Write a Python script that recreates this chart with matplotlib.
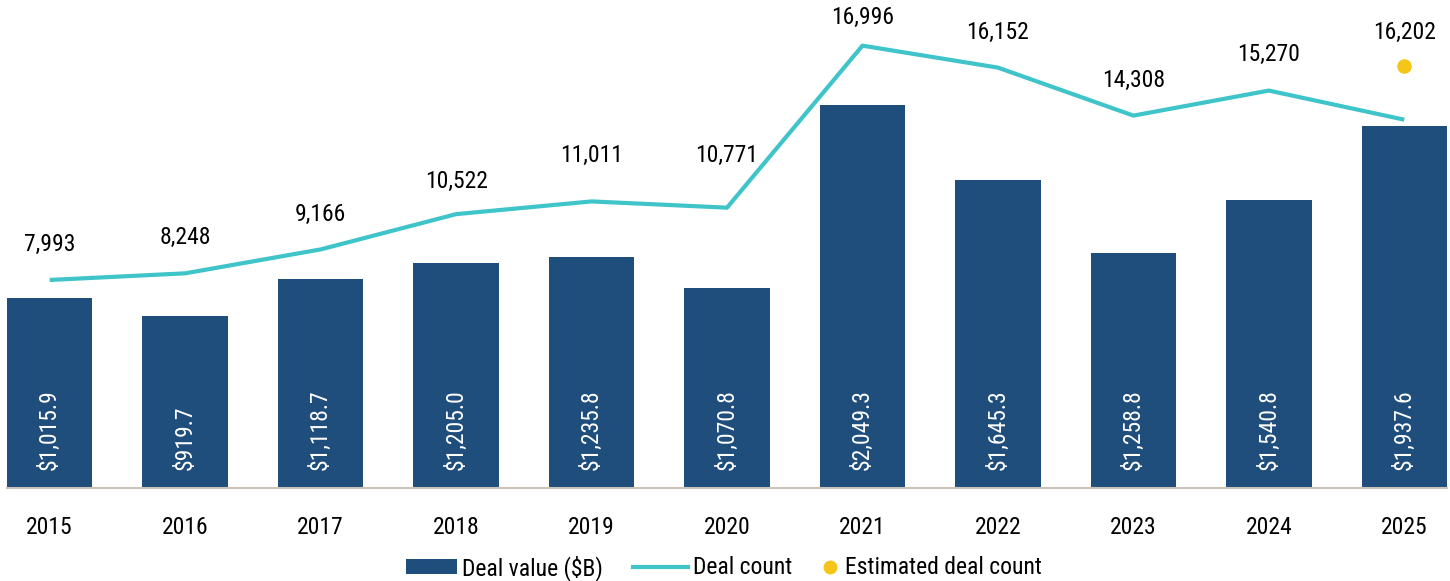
import matplotlib
matplotlib.use("Agg")
import matplotlib.pyplot as plt
from matplotlib.lines import Line2D
from matplotlib.patches import Patch
import numpy as np

years = ["2015", "2016", "2017", "2018", "2019", "2020", "2021", "2022", "2023", "2024", "2025"]
deal_value = [1015.9, 919.7, 1118.7, 1205.0, 1235.8, 1070.8, 2049.3, 1645.3, 1258.8, 1540.8, 1937.6]
deal_count = [7993, 8248, 9166, 10522, 11011, 10771, 16996, 16152, 14308, 15270, 14150]
count_labels = ["7,993", "8,248", "9,166", "10,522", "11,011", "10,771", "16,996", "16,152", "14,308", "15,270", None]
estimated_count = 16202

bar_color = "#1f4e7d"
line_color = "#3fc4c9"
dot_color = "#f5c518"

# label distance above the point (px), a few labels sit higher/lower to dodge the line
label_gap = [36, 36, 35, 33, 46, 52, 28, 35, 35, 36, 34]

plt.rcParams["font.family"] = ["Roboto Condensed", "Roboto", "DejaVu Sans"]

fig = plt.figure(figsize=(14.5, 5.81), dpi=100)
ax = fig.add_axes([7 / 1450, 93 / 581, 1440 / 1450, 488 / 581])
x = np.arange(len(years))

ax.bar(x, deal_value, width=0.63, color=bar_color)
ax.set_xlim(-0.315, len(years) - 1 + 0.315)
ax.set_ylim(0, 2611)
for xi, v in zip(x, deal_value):
    ax.annotate("${:,.1f}".format(v), (xi, 0), xytext=(0, 13), textcoords="offset points",
                rotation=90, ha="center", va="bottom", color="white", fontsize=17)

for s in ["top", "right", "left"]:
    ax.spines[s].set_visible(False)
ax.spines["bottom"].set_color("#c9c2b8")
ax.spines["bottom"].set_linewidth(1.5)
ax.set_yticks([])
ax.set_xticks(x)
ax.set_xticklabels(years, fontsize=17)
ax.tick_params(axis="x", length=0, pad=20)

ax2 = ax.twinx()
ax2.set_ylim(0, 18750)
ax2.set_yticks([])
for s in ax2.spines.values():
    s.set_visible(False)
ax2.plot(x, deal_count, color=line_color, linewidth=3, solid_capstyle="butt")
ax2.scatter([x[-1]], [estimated_count], s=110, color=dot_color, zorder=5, linewidths=0)
for xi, v, lab, g in zip(x, deal_count, count_labels, label_gap):
    if lab is not None:
        ax2.annotate(lab, (xi, v), xytext=(0, g * 0.72), textcoords="offset points",
                     ha="center", va="center", fontsize=17, color="black")
ax2.annotate("{:,}".format(estimated_count), (x[-1], estimated_count), xytext=(0, label_gap[-1] * 0.72),
             textcoords="offset points", ha="center", va="center", fontsize=17, color="black")

# legend: three single-entry legends so each handle can have its own length
legend_y = 1 - 568 / 581
entries = [
    (Patch(facecolor=bar_color, label="Deal value ($B)"), 406, 2.16),
    (Line2D([0], [0], color=line_color, linewidth=3, label="Deal count"), 633, 2.33),
    (Line2D([0], [0], marker="o", linestyle="none", markersize=10, markerfacecolor=dot_color,
            markeredgewidth=0, label="Estimated deal count"), 821, 0.8),
]
for handle, left_px, hl in entries:
    leg = fig.legend(handles=[handle], loc="center left", bbox_to_anchor=(left_px / 1450, legend_y),
                     frameon=False, fontsize=17, handlelength=hl, handleheight=0.6,
                     handletextpad=0.22, borderpad=0, borderaxespad=0)

fig.savefig("out.png", dpi=100)
